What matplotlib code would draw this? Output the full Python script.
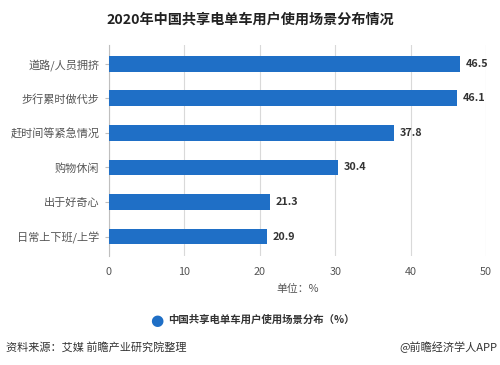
import matplotlib.pyplot as plt

plt.rcParams['font.family'] = ['Noto Sans CJK SC', 'DejaVu Sans']

# data
categories = ['道路/人员拥挤', '步行累时做代步', '赶时间等紧急情况', '购物休闲', '出于好奇心', '日常上下班/上学']
values = [46.5, 46.1, 37.8, 30.4, 21.3, 20.9]
xticks = [0, 10, 20, 30, 40, 50]

bar_color = '#1f6fc6'

fig = plt.figure(figsize=(5, 3.65), dpi=100)
ax = fig.add_axes([0.218, 0.30, 0.754, 0.577])

ypos = list(range(len(categories)))[::-1]
ax.barh(ypos, values, height=0.46, color=bar_color, zorder=3)

for y, v in zip(ypos, values):
    ax.text(v + 0.8, y, '%.1f' % v, va='center', ha='left', fontsize=7.8,
            fontweight='bold', color='#333333')

ax.set_yticks(ypos)
ax.set_yticklabels(categories, fontsize=8, color='#555555')
ax.set_xticks(xticks)
ax.set_xticklabels([str(t) for t in xticks], fontsize=7.8, color='#555555')
ax.set_xlim(0, 50)
ax.set_ylim(-0.55, 5.55)

ax.grid(axis='x', color='#d9d9d9', linewidth=0.8, zorder=0)
for s in ['top', 'right', 'bottom']:
    ax.spines[s].set_visible(False)
ax.spines['left'].set_color('#bfbfbf')
ax.tick_params(axis='y', length=3, color='#bfbfbf', pad=4)
ax.tick_params(axis='x', length=0, pad=8)

ax.set_xlabel('单位：%', fontsize=7.8, color='#555555', labelpad=5)

fig.text(0.5, 0.945, '2020年中国共享电单车用户使用场景分布情况', ha='center', va='center',
         fontsize=10.2, fontweight='bold', color='#222222')

# legend
fig.text(0.314, 0.123, '●', ha='center', va='center', fontsize=11, color=bar_color,
         family=['DejaVu Sans'])
fig.text(0.336, 0.123, '中国共享电单车用户使用场景分布（%）', ha='left', va='center',
         fontsize=7.5, fontweight='bold', color='#333333')

# footer
fig.text(0.012, 0.048, '资料来源：艾媒 前瞻产业研究院整理', ha='left', va='center',
         fontsize=8, color='#333333')
fig.text(0.995, 0.048, '@前瞻经济学人APP', ha='right', va='center',
         fontsize=8, color='#333333')

fig.savefig('out.png', dpi=100, facecolor='white')
